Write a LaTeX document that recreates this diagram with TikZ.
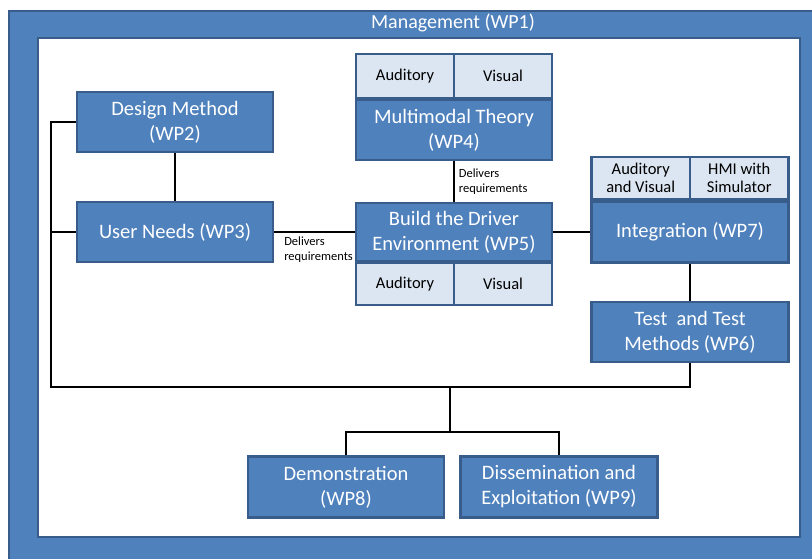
\documentclass[tikz,border=0pt]{standalone}
\usepackage{fontspec}
\setmainfont{Carlito}
\usetikzlibrary{calc}
\definecolor{wpblue}{RGB}{79,129,189}
\definecolor{wpedge}{RGB}{56,93,138}
\definecolor{wpcell}{RGB}{220,230,242}
\tikzstyle{wp}=[draw=wpedge,fill=wpblue,line width=2.2pt,text=white,align=center,inner sep=0pt,font=\fontsize{20.5}{25}\selectfont]
\tikzstyle{cell}=[draw=wpedge,fill=wpcell,line width=2.2pt,text=black,align=center,inner sep=0pt,font=\fontsize{16.5}{18}\selectfont]
\tikzstyle{link}=[black,line width=1.7pt]
\tikzstyle{note}=[font=\fontsize{12.5}{14.5}\selectfont,align=left,inner sep=4pt]

\begin{document}
\begin{tikzpicture}[x=1pt,y=-1pt]
            \useasboundingbox (0,0) rectangle (812,559);
            \def\w{196}
            \def\h{60}
            % management frame
            \draw[draw=wpedge,fill=wpblue,line width=2pt] (9,11) rectangle (830,580);
            \draw[draw=wpedge,fill=white,line width=2pt] (38,38) rectangle (800,537);
            \node[text=white,font=\fontsize{20}{24}\selectfont] (wp1) at (453,23) {Management (WP1)};
            % work packages
            \node[wp,minimum width=\w,minimum height=\h] (wp2) at (175,122) {Design Method\\(WP2)};
            \node[wp,minimum width=\w,minimum height=\h] (wp3) at (175,232) {User Needs (WP3)};
            \node[wp,minimum width=\w,minimum height=\h] (wp4) at (454,130) {Multimodal Theory\\(WP4)};
            \node[cell,minimum width=\w/2,minimum height=44,anchor=south west] (wp4a) at (wp4.north west) {Auditory};
            \node[cell,minimum width=\w/2,minimum height=44,anchor=south east] (wp4v) at (wp4.north east) {Visual};
            \node[wp,minimum width=\w,minimum height=58] (wp5) at (454,232) {Build the Driver\\Environment (WP5)};
            \node[cell,minimum width=\w/2,minimum height=42,anchor=north west] (wp5a) at (wp5.south west) {Auditory};
            \node[cell,minimum width=\w/2,minimum height=42,anchor=north east] (wp5v) at (wp5.south east) {Visual};
            \node[wp,minimum width=197,minimum height=61] (wp7) at (690,232) {Integration (WP7)};
            \node[cell,minimum width=98.5,minimum height=42,anchor=south west] (wp7a) at (wp7.north west) {Auditory\\and Visual};
            \node[cell,minimum width=98.5,minimum height=42,anchor=south east] (wp7h) at (wp7.north east) {HMI with\\Simulator};
            \node[wp,minimum width=197,minimum height=\h] (wp6) at (690,332) {Test~ and Test\\Methods (WP6)};
            \node[wp,minimum width=\w,minimum height=61] (wp8) at (346,487) {Demonstration\\(WP8)};
            \node[wp,minimum width=197,minimum height=61] (wp9) at (559,487) {Dissemination and\\Exploitation (WP9)};
            % links
            \draw[link] (wp2) -- (wp3);
            \draw[link] (wp3) -- (wp5) node[note,pos=0.55,below] {Delivers\\requirements};
            \draw[link] (wp4) -- (wp5) node[note,midway,right] {Delivers\\requirements};
            \draw[link] (wp5) -- (wp7);
            \draw[link] (wp7) -- (wp6);
            \coordinate (bl) at (51,387); % left bus
            \coordinate (bm) at (450,387);
            \coordinate (bd) at (450,432);
            \draw[link] (wp2.west) -| (bl) -| (wp6.south);
            \draw[link] (wp3.west) -- (wp3.west -| bl);
            \draw[link] (bm) -- (bd);
            \draw[link] (wp8.north) |- (bd) -| (wp9.north);
        \end{tikzpicture}
\end{document}
